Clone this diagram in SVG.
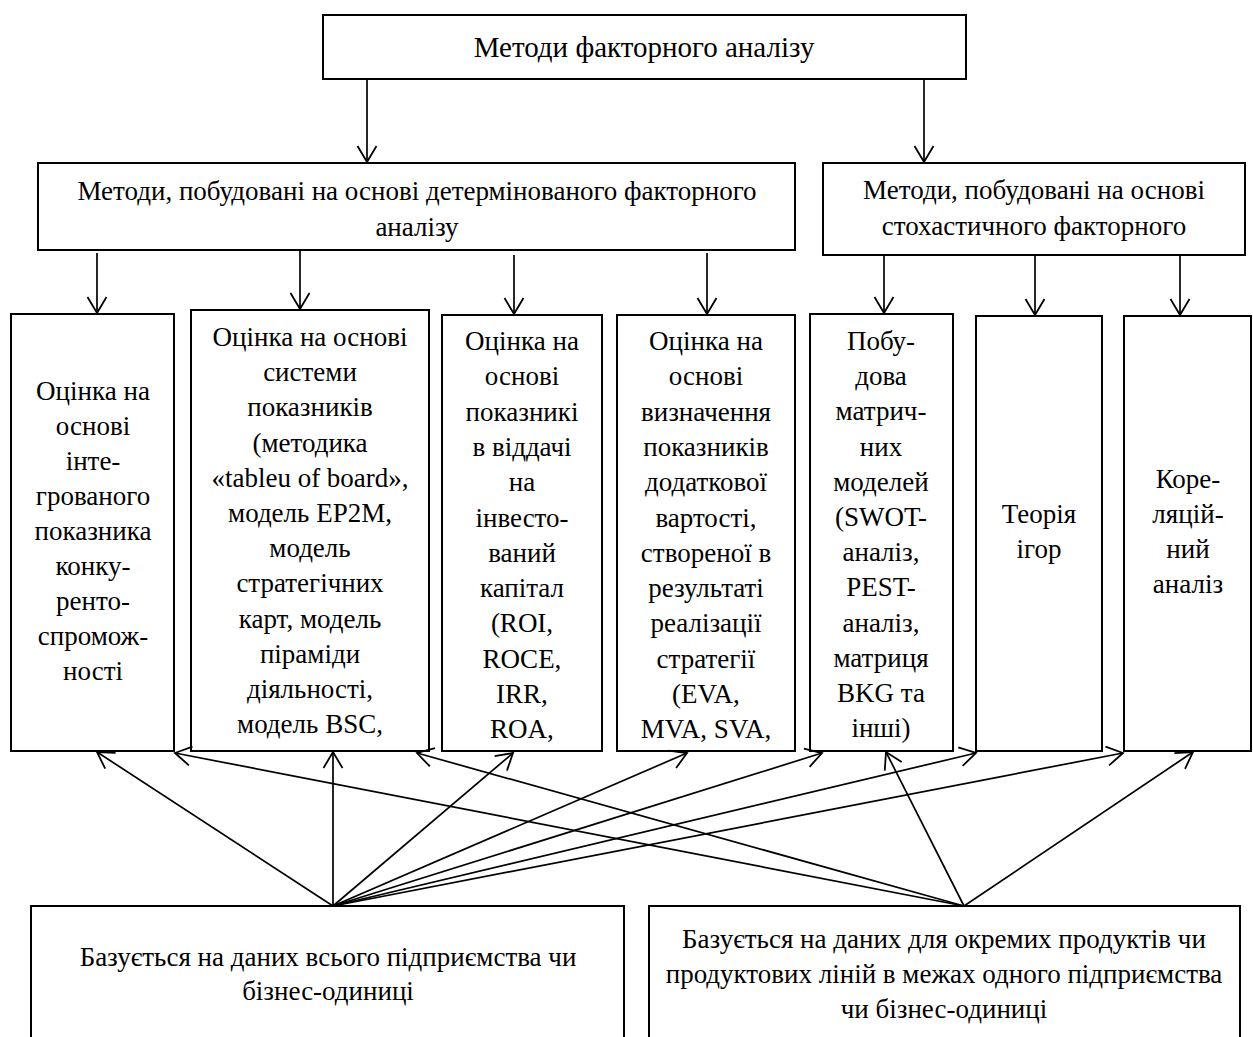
<svg xmlns="http://www.w3.org/2000/svg" width="1253" height="1037" viewBox="0 0 1253 1037">
  <style>
    .box { fill: #fff; stroke: #000; stroke-width: 2; }
    .lbl { font-family: "Liberation Serif", "Times New Roman", serif; font-size: 27px; fill: #000; text-anchor: middle; }
    .big { font-size: 29px; }
    .con { fill: none; stroke: #000; stroke-width: 1.7; marker-end: url(#arrow); }
  </style>
  <defs>
    <marker id="arrow" markerUnits="userSpaceOnUse" markerWidth="24" markerHeight="24" viewBox="-20 -12 22 24" refX="0" refY="0" orient="auto" overflow="visible">
      <path d="M -16 -9.5 L 0 0 L -16 9.5" fill="none" stroke="#000" stroke-width="1.8"/>
    </marker>
  </defs>
  <rect width="1253" height="1037" fill="#fff"/>

  <!-- top level -->
  <g id="node-root">
    <rect class="box" x="323" y="15" width="643" height="64"/>
    <text class="lbl big" x="644" y="57">Методи факторного аналізу</text>
  </g>

  <!-- second level -->
  <g id="node-determ">
    <rect class="box" x="38" y="163" width="757" height="87"/>
    <text class="lbl" x="417" y="200">Методи, побудовані на основі детермінованого факторного</text>
    <text class="lbl" x="417" y="236">аналізу</text>
  </g>
  <g id="node-stoch">
    <rect class="box" x="823" y="163" width="422" height="92"/>
    <text class="lbl" x="1034" y="199">Методи, побудовані на основі</text>
    <text class="lbl" x="1034" y="235">стохастичного факторного</text>
  </g>

  <!-- third level -->
  <g id="node-integral">
    <rect class="box" x="11" y="314" width="163" height="437"/>
    <text class="lbl" x="93" y="400">Оцінка на<tspan x="93" dy="35">основі</tspan><tspan x="93" dy="35">інте-</tspan><tspan x="93" dy="35">грованого</tspan><tspan x="93" dy="35">показника</tspan><tspan x="93" dy="35">конку-</tspan><tspan x="93" dy="35">ренто-</tspan><tspan x="93" dy="35">спромож-</tspan><tspan x="93" dy="35">ності</tspan></text>
  </g>
  <g id="node-system">
    <rect class="box" x="191" y="310" width="238" height="441"/>
    <text class="lbl" x="310" y="346">Оцінка на основі<tspan x="310" dy="35.2">системи</tspan><tspan x="310" dy="35.2">показників</tspan><tspan x="310" dy="35.2">(методика</tspan><tspan x="310" dy="35.2">«tableu of board»,</tspan><tspan x="310" dy="35.2">модель EP2M,</tspan><tspan x="310" dy="35.2">модель</tspan><tspan x="310" dy="35.2">стратегічних</tspan><tspan x="310" dy="35.2">карт, модель</tspan><tspan x="310" dy="35.2">піраміди</tspan><tspan x="310" dy="35.2">діяльності,</tspan><tspan x="310" dy="35.2">модель BSC,</tspan></text>
  </g>
  <g id="node-return">
    <rect class="box" x="442" y="315" width="160" height="436"/>
    <text class="lbl" x="522" y="350">Оцінка на<tspan x="522" dy="35.3">основі</tspan><tspan x="522" dy="35.3">показникі</tspan><tspan x="522" dy="35.3">в віддачі</tspan><tspan x="522" dy="35.3">на</tspan><tspan x="522" dy="35.3">інвесто-</tspan><tspan x="522" dy="35.3">ваний</tspan><tspan x="522" dy="35.3">капітал</tspan><tspan x="522" dy="35.3">(ROI,</tspan><tspan x="522" dy="35.3">ROCE,</tspan><tspan x="522" dy="35.3">IRR,</tspan><tspan x="522" dy="35.3">ROA,</tspan></text>
  </g>
  <g id="node-value">
    <rect class="box" x="617" y="315" width="178" height="436"/>
    <text class="lbl" x="706" y="350">Оцінка на<tspan x="706" dy="35.3">основі</tspan><tspan x="706" dy="35.3">визначення</tspan><tspan x="706" dy="35.3">показників</tspan><tspan x="706" dy="35.3">додаткової</tspan><tspan x="706" dy="35.3">вартості,</tspan><tspan x="706" dy="35.3">створеної в</tspan><tspan x="706" dy="35.3">результаті</tspan><tspan x="706" dy="35.3">реалізації</tspan><tspan x="706" dy="35.3">стратегії</tspan><tspan x="706" dy="35.3">(EVA,</tspan><tspan x="706" dy="35.3">MVA, SVA,</tspan></text>
  </g>
  <g id="node-matrix">
    <rect class="box" x="810" y="314" width="143" height="437"/>
    <text class="lbl" x="881" y="350">Побу-<tspan x="881" dy="35.2">дова</tspan><tspan x="881" dy="35.2">матрич-</tspan><tspan x="881" dy="35.2">них</tspan><tspan x="881" dy="35.2">моделей</tspan><tspan x="881" dy="35.2">(SWOT-</tspan><tspan x="881" dy="35.2">аналіз,</tspan><tspan x="881" dy="35.2">PEST-</tspan><tspan x="881" dy="35.2">аналіз,</tspan><tspan x="881" dy="35.2">матриця</tspan><tspan x="881" dy="35.2">BKG та</tspan><tspan x="881" dy="35.2">інші)</tspan></text>
  </g>
  <g id="node-games">
    <rect class="box" x="976" y="316" width="126" height="435"/>
    <text class="lbl" x="1039" y="523">Теорія<tspan x="1039" dy="35">ігор</tspan></text>
  </g>
  <g id="node-correl">
    <rect class="box" x="1124" y="316" width="127" height="435"/>
    <text class="lbl" x="1188" y="488">Коре-<tspan x="1188" dy="35">ляцій-</tspan><tspan x="1188" dy="35">ний</tspan><tspan x="1188" dy="35">аналіз</tspan></text>
  </g>

  <!-- data-scope boxes -->
  <g id="node-enterprise">
    <rect class="box" x="31" y="906" width="593" height="150"/>
    <text class="lbl" x="328" y="966">Базується на даних всього підприємства чи</text>
    <text class="lbl" x="328" y="1000">бізнес-одиниці</text>
  </g>
  <g id="node-product">
    <rect class="box" x="649" y="906" width="591" height="150"/>
    <text class="lbl" x="944" y="948">Базується на даних для окремих продуктів чи</text>
    <text class="lbl" x="944" y="983">продуктових ліній в межах одного підприємства</text>
    <text class="lbl" x="944" y="1018">чи бізнес-одиниці</text>
  </g>

  <g id="connectors">
    <!-- top to second level -->
    <line class="con" x1="367" y1="79" x2="367" y2="162"/>
    <line class="con" x1="924" y1="79" x2="924" y2="162"/>
    <!-- deterministic group -->
    <line class="con" x1="97" y1="253" x2="97" y2="313"/>
    <line class="con" x1="300" y1="250" x2="300" y2="309"/>
    <line class="con" x1="514" y1="255" x2="514" y2="314"/>
    <line class="con" x1="707" y1="253" x2="707" y2="314"/>
    <!-- stochastic group -->
    <line class="con" x1="884" y1="255" x2="884" y2="313"/>
    <line class="con" x1="1035" y1="255" x2="1035" y2="315"/>
    <line class="con" x1="1180" y1="255" x2="1180" y2="315"/>
    <!-- enterprise-level data -->
    <line class="con" x1="333" y1="906" x2="97" y2="752"/>
    <line class="con" x1="333" y1="906" x2="333" y2="752"/>
    <line class="con" x1="333" y1="906" x2="513" y2="753"/>
    <line class="con" x1="333" y1="906" x2="687" y2="753"/>
    <line class="con" x1="333" y1="906" x2="822" y2="753"/>
    <line class="con" x1="333" y1="906" x2="976" y2="753"/>
    <line class="con" x1="333" y1="906" x2="1123" y2="753"/>
    <!-- product-level data -->
    <line class="con" x1="964" y1="906" x2="175" y2="753"/>
    <line class="con" x1="964" y1="906" x2="417" y2="753"/>
    <line class="con" x1="964" y1="906" x2="886" y2="752"/>
    <line class="con" x1="964" y1="906" x2="1193" y2="752"/>
  </g>
</svg>
